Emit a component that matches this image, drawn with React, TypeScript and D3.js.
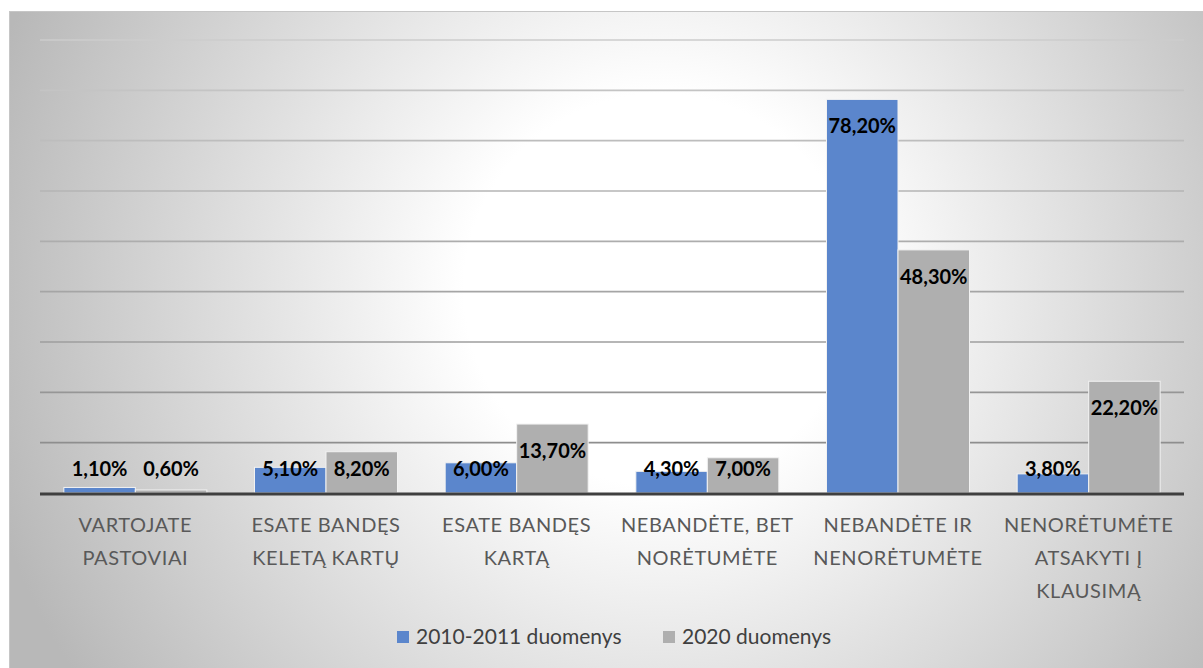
import React from "react";
import * as d3 from "d3";

const categories: string[][] = [
  ["VARTOJATE", "PASTOVIAI"],
  ["ESATE BANDĘS", "KELETĄ KARTŲ"],
  ["ESATE BANDĘS", "KARTĄ"],
  ["NEBANDĖTE, BET", "NORĖTUMĖTE"],
  ["NEBANDĖTE IR", "NENORĖTUMĖTE"],
  ["NENORĖTUMĖTE", "ATSAKYTI Į", "KLAUSIMĄ"],
];
const series2010: number[] = [1.1, 5.1, 6.0, 4.3, 78.2, 3.8];
const series2020: number[] = [0.6, 8.2, 13.7, 7.0, 48.3, 22.2];
const seriesNames: string[] = ["2010-2011 duomenys", "2020 duomenys"];
const seriesColors: string[] = ["#5B86CC", "#AFAFAF"];
const yTicks: number[] = [10, 20, 30, 40, 50, 60, 70, 80, 90];

const W = 1203;
const H = 668;
const left = 40;
const right = 1184;
const top = 40;
const bottom = 493;
const FONT = "Lato, 'Open Sans', sans-serif";

export default function App() {
  const x0 = d3
    .scaleBand<number>()
    .domain(d3.range(categories.length))
    .range([left, right])
    .paddingInner(0.25)
    .paddingOuter(0.125);
  const x1 = d3.scaleBand<number>().domain([0, 1]).range([0, x0.bandwidth()]).padding(0);
  const y = d3.scaleLinear().domain([0, 90]).range([bottom, top]);
  const gridColor = d3.scaleLinear<string>().domain([90, 10]).range(["#cccccc", "#8e8e8e"]);
  const all = [series2010, series2020];
  const fmt = (v: number) => v.toFixed(2).replace(".", ",") + "%";

  return (
    <svg
      width={W}
      height={H}
      style={{ position: "absolute", left: 0, top: 0, fontFamily: FONT }}
    >
      <defs>
        <radialGradient id="bg" gradientUnits="userSpaceOnUse" cx={660} cy={290} r={700}>
          <stop offset="0" stopColor="#ffffff" />
          <stop offset="0.28" stopColor="#ffffff" />
          <stop offset="1" stopColor="#b8b8b8" />
        </radialGradient>
      </defs>
      <rect x={9.5} y={11.5} width={W} height={H} fill="url(#bg)" stroke="#c6c6c6" />
      {yTicks.map((t) => (
        <line
          key={t}
          x1={left}
          x2={right}
          y1={y(t)}
          y2={y(t)}
          stroke={gridColor(t)}
          strokeWidth={1.6}
        />
      ))}
      {all.map((s, si) =>
        s.map((v, i) => {
          const bx = (x0(i) as number) + (x1(si) as number);
          return (
            <rect
              key={`b${si}-${i}`}
              x={bx}
              y={y(v)}
              width={x1.bandwidth()}
              height={bottom - y(v)}
              fill={seriesColors[si]}
              stroke="#f2f2f2"
              strokeWidth={1}
            />
          );
        })
      )}
      <line x1={left} x2={right} y1={bottom + 1} y2={bottom + 1} stroke="#3f3f3f" strokeWidth={3} />
      {all.map((s, si) =>
        s.map((v, i) => {
          const cx = (x0(i) as number) + (x1(si) as number) + x1.bandwidth() / 2;
          const cy = Math.min(y(v) + 27, bottom - 24);
          return (
            <text
              key={`l${si}-${i}`}
              x={cx}
              y={cy + 7}
              textAnchor="middle"
              fontWeight="bold"
              fontSize={20}
              fill="#000"
            >
              {fmt(v)}
            </text>
          );
        })
      )}
      {categories.map((lines, i) => {
        const cx = (x0(i) as number) + x0.bandwidth() / 2;
        return (
          <text
            key={`c${i}`}
            textAnchor="middle"
            fontSize={20}
            fill="#595959"
            letterSpacing={0.6}
          >
            {lines.map((ln, k) => (
              <tspan key={k} x={cx} y={532 + k * 33}>
                {ln}
              </tspan>
            ))}
          </text>
        );
      })}
      {seriesNames.map((n, si) => {
        const lx = [397, 663][si];
        return (
          <g key={`lg${si}`}>
            <rect x={lx} y={631} width={12} height={12} fill={seriesColors[si]} />
            <text x={lx + 19} y={644} fontSize={21} fill="#404040">
              {n}
            </text>
          </g>
        );
      })}
    </svg>
  );
}
